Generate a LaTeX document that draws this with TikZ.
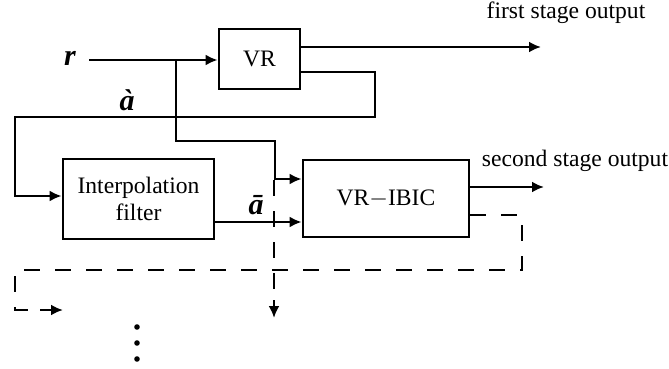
\documentclass[tikz,border=0pt]{standalone}
\usepackage{fontspec}
\setmainfont{Liberation Serif}
\usepackage{tikz}
\usetikzlibrary{arrows.meta}

\begin{document}
\begin{tikzpicture}[
                x=0.5pt, y=-0.5pt,
                block/.style={draw, line width=1.4pt, inner sep=0pt, align=center, font=\fontsize{11.8}{13.5}\selectfont}, % boxes
                lbl/.style={inner sep=0pt, font=\fontsize{11.8}{13.5}\selectfont}, % output texts
                sym/.style={inner sep=0pt, font=\fontsize{15}{17}\selectfont\bfseries\itshape}, % signal names
                wire/.style={line width=1.4pt}, % solid lines
                flow/.style={wire, -{Latex[length=6pt, width=5.5pt]}}, % arrows
                dashline/.style={wire, dash pattern=on 8pt off 7.5pt} % dashed path
                ]
                \useasboundingbox (0,0) rectangle (669,369);

                % blocks
                \node[block, minimum width=40.5pt, minimum height=30pt] (vr) at (259.5,59) {VR};
                \node[block, minimum width=75.5pt, minimum height=40pt] (interp) at (138.5,199) {Interpolation\\filter};
                \node[block, minimum width=83pt, minimum height=38.5pt] (ibic) at (386,198.5) {VR$-$IBIC};

                % labels
                \node[sym] (r) at (70,58) {r};
                \node[sym] (ag) at (127,100) {à};
                \node[sym] (ab) at (256,205) {ā};
                \node[lbl] (out1) at (566,13) {first stage output};
                \node[lbl] (out2) at (575,161) {second stage output};

                % helper points
                \coordinate (rin) at (89,60);
                \coordinate (br) at (176,60);
                \coordinate (o1) at (541,47);
                \coordinate (o2) at (544,187);
                \coordinate (dn) at (274,318);
                \coordinate (lp) at (63,310);

                % solid connections
                \draw[flow] (rin) -- (br) -- (vr.west |- br);
                \draw[flow] (br) -- (176,141) -- (275,141) -- (275,179) -- (ibic.west |- 0,179);
                \draw[flow] (vr.east |- o1) -- (o1);
                \draw[flow] (vr.east |- 0,72) -- (375,72) -- (375,117) -- (15,117) -- (15,196) -- (interp.west |- 0,196);
                \draw[flow] (interp.east |- 0,222) -- (ibic.west |- 0,222);
                \draw[flow] (ibic.east |- o2) -- (o2);

                % dashed paths
                \draw[dashline] (ibic.east |- 0,215) -- (522,215) -- (522,270) -- (15,270) -- (15,310) -- (40,310);
                \draw[flow, dash pattern=on 8pt off 7.5pt] (40,310) -- (lp);
                \draw[dashline] (274,180) -- (274,300);
                \draw[flow] (274,300) -- (dn);

                % dots
                \foreach \y in {327,343,359}
                    \fill (137,\y) circle (1.4pt);
            \end{tikzpicture}
\end{document}
